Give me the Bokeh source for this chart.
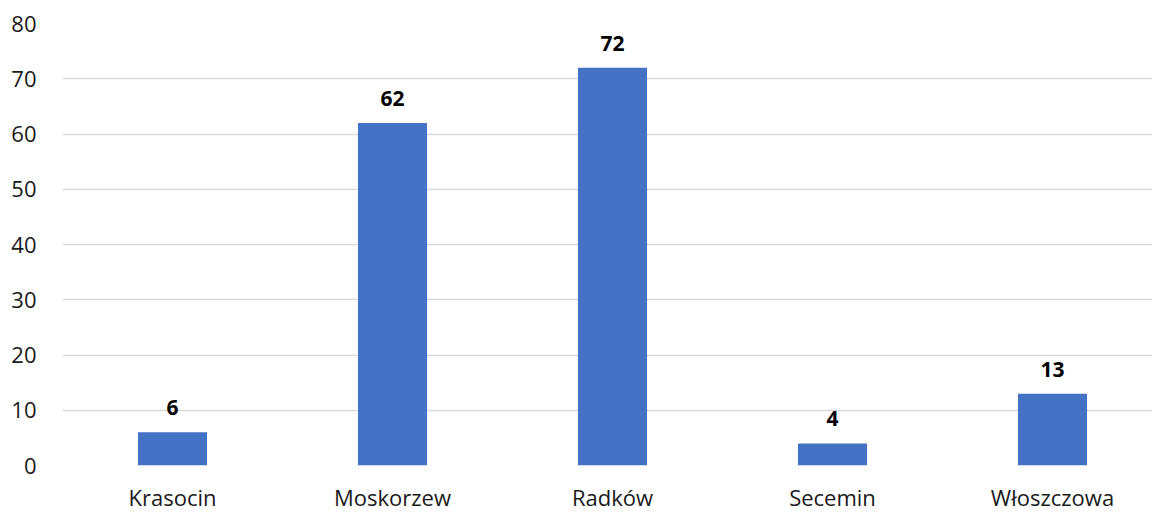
from bokeh.plotting import figure
from bokeh.models import ColumnDataSource, FixedTicker, Range1d, LabelSet
from bokeh.core.properties import value
from bokeh.embed import file_html
from bokeh.resources import INLINE

# Number of entries per municipality
gminy = ["Krasocin", "Moskorzew", "Radków", "Secemin", "Włoszczowa"]
liczba = [6, 62, 72, 4, 13]
y_ticks = [0, 10, 20, 30, 40, 50, 60, 70, 80]

FONT = "Open Sans"
BAR_COLOR = "#4472C4"

xs = list(range(len(gminy)))
src = ColumnDataSource(dict(x=xs, top=liczba, label=[str(v) for v in liczba]))

p = figure(
    width=1152, height=514,
    x_range=Range1d(-0.5, -0.5 + 1090 / 220),
    y_range=Range1d(0, 80),
    output_backend="svg", toolbar_location=None,
    min_border_left=62, min_border_right=0,
    min_border_top=23, min_border_bottom=48,
)
p.outline_line_color = None
p.background_fill_color = "white"
p.border_fill_color = "white"

p.vbar(x="x", top="top", width=0.314, bottom=0, source=src,
       fill_color=BAR_COLOR, line_color=None)

labels = LabelSet(x="x", y="top", text="label", source=src,
                  text_align="center", text_baseline="bottom", y_offset=17,
                  text_font=value(FONT), text_font_size=value("21px"),
                  text_font_style=value("bold"), text_color=value("#000000"))
p.add_layout(labels)

# y axis: gridlines only, labels to the left
p.yaxis.ticker = FixedTicker(ticks=y_ticks)
p.yaxis.axis_line_color = None
p.yaxis.major_tick_line_color = None
p.yaxis.minor_tick_line_color = None
p.yaxis.major_label_text_font = FONT
p.yaxis.major_label_text_font_size = "22px"
p.yaxis.major_label_text_color = "#1a1a1a"
p.yaxis.major_label_standoff = 20

p.ygrid.ticker = FixedTicker(ticks=y_ticks)
p.ygrid.grid_line_color = "#D9D9D9"
p.ygrid.grid_line_width = 1.5
p.xgrid.grid_line_color = None

# x axis: category names under each bar
p.xaxis.ticker = FixedTicker(ticks=xs)
p.xaxis.major_label_overrides = {i: g for i, g in enumerate(gminy)}
p.xaxis.axis_line_color = None
p.xaxis.major_tick_line_color = None
p.xaxis.minor_tick_line_color = None
p.xaxis.major_label_text_font = FONT
p.xaxis.major_label_text_font_size = "22px"
p.xaxis.major_label_text_color = "#1a1a1a"
p.xaxis.major_label_standoff = 10

open("out.html", "w").write(file_html(p, INLINE))
